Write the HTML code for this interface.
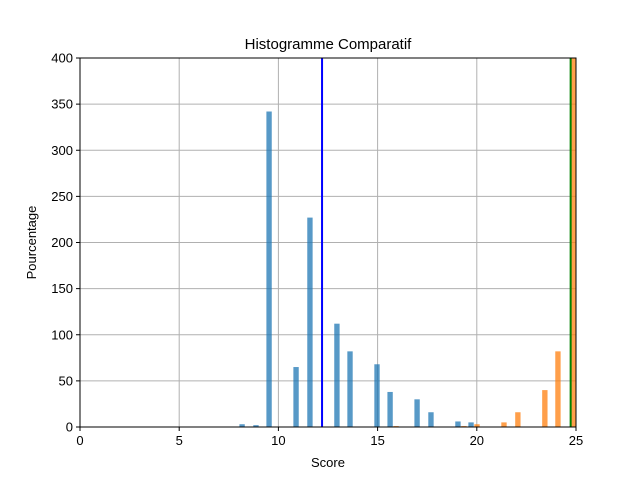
<!DOCTYPE html>
<html><head><meta charset="utf-8"><style>
body{margin:0;background:#fff}
svg{display:block;font-family:"Liberation Sans","DejaVu Sans",sans-serif}
</style></head><body>
<svg id="c" width="640" height="480"></svg>
<script>
const blueScores=[8.17,8.87,9.53,10.89,11.59,12.95,13.61,14.97,15.63,16.99,17.69,19.05,19.71];
const blueValues=[3,2,342,65,227,112,82,68,38,30,16,6,5];
const orangeScores=[15.93,19.35,20.01,21.37,22.07,23.43,24.09,24.84];
const orangeValues=[1,1,3,5,16,40,82,600];
const xTicks=[0,5,10,15,20,25];
const yTicks=[0,50,100,150,200,250,300,350,400];
const blueLine=12.2, greenLine=24.73;
const L=80,R=576,T=58,B=427;
const X=v=>L+(v/25)*(R-L), Y=v=>B-(v/400)*(B-T);
const s=document.getElementById('c'),NS='http://www.w3.org/2000/svg';
function mk(t,a,txt){const e=document.createElementNS(NS,t);for(const k in a)e.setAttribute(k,a[k]);if(txt!==undefined)e.textContent=txt;s.appendChild(e);return e;}
const cp=mk('clipPath',{id:'cl'});const cr=document.createElementNS(NS,'rect');cr.setAttribute('x',L);cr.setAttribute('y',T);cr.setAttribute('width',R-L);cr.setAttribute('height',B-T);cp.appendChild(cr);
xTicks.forEach(v=>{const g=mk('line',{x1:X(v),x2:X(v),y1:T,y2:B,stroke:'#b0b0b0','stroke-width':1});

const t=mk('line',{x1:X(v),x2:X(v),y1:B,y2:B+4,stroke:'#000'});
const l=mk('text',{x:X(v),y:B+18,'text-anchor':'middle','font-size':13},v);});
yTicks.forEach(v=>{const g=mk('line',{x1:L,x2:R,y1:Y(v),y2:Y(v),stroke:'#b0b0b0','stroke-width':1});

const t=mk('line',{x1:L-4,x2:L,y1:Y(v),y2:Y(v),stroke:'#000'});
const l=mk('text',{x:L-7,y:Y(v)+4.5,'text-anchor':'end','font-size':13},v);});
const bw=(R-L)/25*0.27;
blueScores.forEach((v,i)=>{const r=mk('rect',{x:X(v)-bw/2,y:Y(blueValues[i]),width:bw,height:B-Y(blueValues[i]),fill:'#1f77b4','fill-opacity':0.75,'clip-path':'url(#cl)'});
});
orangeScores.forEach((v,i)=>{const r=mk('rect',{x:X(v)-bw/2,y:Y(orangeValues[i]),width:bw,height:B-Y(orangeValues[i]),fill:'#ff7f0e','fill-opacity':0.75,'clip-path':'url(#cl)'});
});
const bl=mk('line',{x1:X(blueLine),x2:X(blueLine),y1:T,y2:B,stroke:'#0000ff','stroke-width':2});

const gl=mk('line',{x1:X(greenLine),x2:X(greenLine),y1:T,y2:B,stroke:'#008000','stroke-width':2});

const fr=mk('rect',{x:L,y:T,width:R-L,height:B-T,fill:'none',stroke:'#000','stroke-width':1});

const ti=mk('text',{x:(L+R)/2,y:49,'text-anchor':'middle','font-size':15},'Histogramme Comparatif');

const xt=mk('text',{x:(L+R)/2,y:467,'text-anchor':'middle','font-size':13},'Score');

const yt=mk('text',{x:36,y:(T+B)/2,'text-anchor':'middle','font-size':13,transform:'rotate(-90 36 '+((T+B)/2)+')'},'Pourcentage');

</script>
</body></html>
